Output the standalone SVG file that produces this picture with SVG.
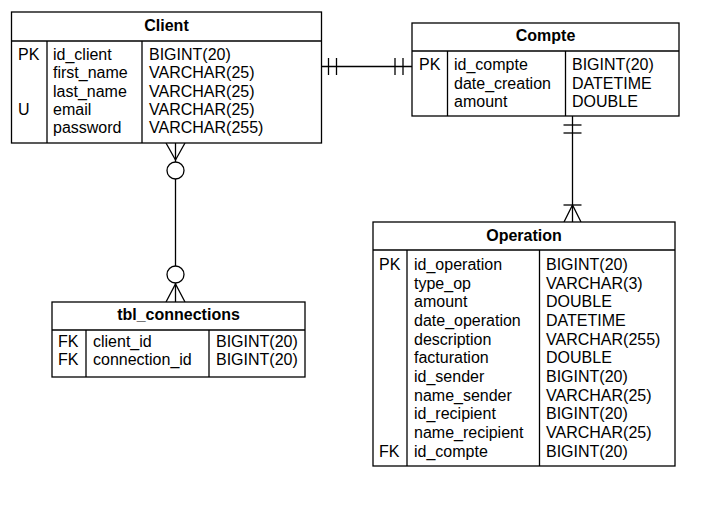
<svg xmlns="http://www.w3.org/2000/svg" width="727" height="516" viewBox="0 0 727 516">
<style>
.box{fill:#fff;stroke:#000;stroke-width:1.3}
.ln{stroke:#000;stroke-width:1.3;fill:none}
.t{font-family:"Liberation Sans",Arial,sans-serif;font-size:16px;fill:#000}
.h{font-family:"Liberation Sans",Arial,sans-serif;font-size:16px;font-weight:bold;fill:#000;text-anchor:middle}
.c{fill:#fff;stroke:#000;stroke-width:1.3}
</style>
<rect width="727" height="516" fill="#fff"/>
<g id="connectors">
  <!-- Client - Compte -->
  <line class="ln" x1="321.5" y1="66.5" x2="412" y2="66.5"/>
  <line class="ln" x1="328.5" y1="58" x2="328.5" y2="75"/>
  <line class="ln" x1="336.5" y1="58" x2="336.5" y2="75"/>
  <line class="ln" x1="395" y1="58" x2="395" y2="75"/>
  <line class="ln" x1="403" y1="58" x2="403" y2="75"/>
  <!-- Compte - Operation -->
  <line class="ln" x1="572.5" y1="116" x2="572.5" y2="222"/>
  <line class="ln" x1="563.5" y1="125" x2="581.5" y2="125"/>
  <line class="ln" x1="563.5" y1="133" x2="581.5" y2="133"/>
  <line class="ln" x1="563.5" y1="205" x2="581.5" y2="205"/>
  <polyline class="ln" points="564,222 572.5,205 581,222"/>
  <!-- Client - tbl_connections -->
  <line class="ln" x1="175.5" y1="143" x2="175.5" y2="302"/>
  <polyline class="ln" points="166,143 175.5,160 185,143"/>
  <circle class="c" cx="175.5" cy="170.5" r="8.5"/>
  <polyline class="ln" points="166,302 175.5,284 185,302"/>
  <circle class="c" cx="175.5" cy="274.5" r="8.5"/>
</g>
<g id="client">
  <rect class="box" x="11.5" y="12" width="310" height="131"/>
  <line class="ln" x1="11.5" y1="41" x2="321.5" y2="41"/>
  <line class="ln" x1="47" y1="41" x2="47" y2="143"/>
  <line class="ln" x1="142" y1="41" x2="142" y2="143"/>
  <text class="h" x="166.5" y="31">Client</text>
  <text class="t" x="18" y="60">PK</text>
  <text class="t" x="18" y="115">U</text>
  <text class="t" x="53" y="60">id_client</text>
  <text class="t" x="53" y="78.3">first_name</text>
  <text class="t" x="53" y="96.6">last_name</text>
  <text class="t" x="53" y="115">email</text>
  <text class="t" x="53" y="133.3">password</text>
  <text class="t" x="149" y="60">BIGINT(20)</text>
  <text class="t" x="149" y="78.3">VARCHAR(25)</text>
  <text class="t" x="149" y="96.6">VARCHAR(25)</text>
  <text class="t" x="149" y="115">VARCHAR(25)</text>
  <text class="t" x="149" y="133.3">VARCHAR(255)</text>
</g>
<g id="compte">
  <rect class="box" x="412" y="23" width="267" height="93"/>
  <line class="ln" x1="412" y1="51" x2="679" y2="51"/>
  <line class="ln" x1="447.5" y1="51" x2="447.5" y2="116"/>
  <line class="ln" x1="565.5" y1="51" x2="565.5" y2="116"/>
  <text class="h" x="545.5" y="41">Compte</text>
  <text class="t" x="419" y="70">PK</text>
  <text class="t" x="454" y="70">id_compte</text>
  <text class="t" x="454" y="88.5">date_creation</text>
  <text class="t" x="454" y="107">amount</text>
  <text class="t" x="572" y="70">BIGINT(20)</text>
  <text class="t" x="572" y="88.5">DATETIME</text>
  <text class="t" x="572" y="107">DOUBLE</text>
</g>
<g id="tbl_connections">
  <rect class="box" x="52" y="302" width="253" height="75"/>
  <line class="ln" x1="52" y1="330" x2="305" y2="330"/>
  <line class="ln" x1="86" y1="330" x2="86" y2="377"/>
  <line class="ln" x1="209" y1="330" x2="209" y2="377"/>
  <text class="h" x="178.5" y="320">tbl_connections</text>
  <text class="t" x="58" y="347.3">FK</text>
  <text class="t" x="58" y="365.3">FK</text>
  <text class="t" x="93" y="347.3">client_id</text>
  <text class="t" x="93" y="365.3">connection_id</text>
  <text class="t" x="216" y="347.3">BIGINT(20)</text>
  <text class="t" x="216" y="365.3">BIGINT(20)</text>
</g>
<g id="operation">
  <rect class="box" x="373" y="222" width="302" height="244"/>
  <line class="ln" x1="373" y1="250" x2="675" y2="250"/>
  <line class="ln" x1="407" y1="250" x2="407" y2="466"/>
  <line class="ln" x1="539.5" y1="250" x2="539.5" y2="466"/>
  <text class="h" x="524" y="240.7">Operation</text>
  <text class="t" x="379" y="270">PK</text>
  <text class="t" x="379" y="456.7">FK</text>
  <text class="t" x="414" y="270">id_operation</text>
  <text class="t" x="414" y="288.7">type_op</text>
  <text class="t" x="414" y="307.3">amount</text>
  <text class="t" x="414" y="326">date_operation</text>
  <text class="t" x="414" y="344.7">description</text>
  <text class="t" x="414" y="363.3">facturation</text>
  <text class="t" x="414" y="382">id_sender</text>
  <text class="t" x="414" y="400.7">name_sender</text>
  <text class="t" x="414" y="419.3">id_recipient</text>
  <text class="t" x="414" y="438">name_recipient</text>
  <text class="t" x="414" y="456.7">id_compte</text>
  <text class="t" x="546" y="270">BIGINT(20)</text>
  <text class="t" x="546" y="288.7">VARCHAR(3)</text>
  <text class="t" x="546" y="307.3">DOUBLE</text>
  <text class="t" x="546" y="326">DATETIME</text>
  <text class="t" x="546" y="344.7">VARCHAR(255)</text>
  <text class="t" x="546" y="363.3">DOUBLE</text>
  <text class="t" x="546" y="382">BIGINT(20)</text>
  <text class="t" x="546" y="400.7">VARCHAR(25)</text>
  <text class="t" x="546" y="419.3">BIGINT(20)</text>
  <text class="t" x="546" y="438">VARCHAR(25)</text>
  <text class="t" x="546" y="456.7">BIGINT(20)</text>
</g>
</svg>
